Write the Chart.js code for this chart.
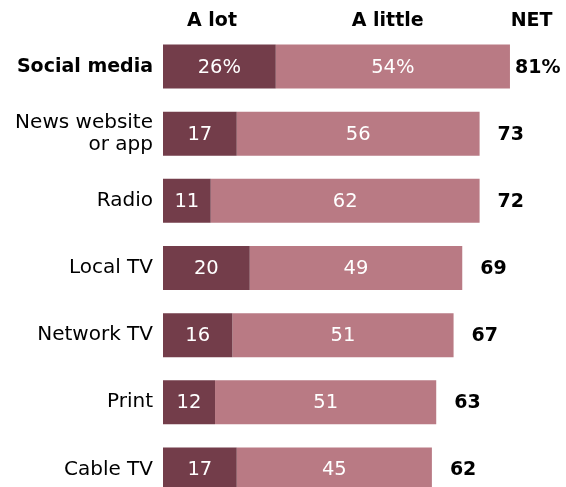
<!DOCTYPE html>
<html>
<head>
<meta charset="utf-8">
<script src="https://cdn.jsdelivr.net/npm/chart.js@4.4.1/dist/chart.umd.min.js"></script>
<style>
  html, body { margin: 0; padding: 0; background: #fff; overflow: hidden; }
  #wrap { width: 566px; height: 487px; overflow: hidden; }
  canvas { display: block; }
</style>
</head>
<body>
<div id="wrap"><canvas id="chart" width="566" height="503"></canvas></div>
<script>
// Data
const categories = ['Social media', ['News website', 'or app'], 'Radio', 'Local TV', 'Network TV', 'Print', 'Cable TV'];
const aLot = [26, 17, 11, 20, 16, 12, 17];
const aLittle = [54, 56, 62, 49, 51, 51, 45];
const net = [81, 73, 72, 69, 67, 63, 62];
const headers = ['A lot', 'A little', 'NET'];

const FONT = '"DejaVu Sans", sans-serif';
const DARK = '#733d4a';
const LIGHT = '#b97a84';

// labels inside bars, NET column and header row
const labelPlugin = {
  id: 'labels',
  afterDatasetsDraw(chart) {
    const ctx = chart.ctx;
    const x = chart.scales.x;
    ctx.save();
    ctx.textBaseline = 'middle';

    // values inside segments
    ctx.fillStyle = '#fff';
    ctx.font = '19.5px ' + FONT;
    ctx.textAlign = 'center';
    chart.data.datasets.forEach((ds, di) => {
      chart.getDatasetMeta(di).data.forEach((bar, i) => {
        const txt = ds.data[i] + (i === 0 ? '%' : '');
        ctx.fillText(txt, (bar.x + bar.base) / 2, bar.y + 1);
      });
    });

    // NET
    ctx.fillStyle = '#000';
    ctx.font = 'bold 19px ' + FONT;
    ctx.textAlign = 'left';
    const last = chart.getDatasetMeta(chart.data.datasets.length - 1).data;
    last.forEach((bar, i) => {
      const txt = net[i] + (i === 0 ? '%' : '');
      ctx.fillText(txt, bar.x + (i === 0 ? 5 : 18), bar.y + 1);
    });

    // header row
    ctx.textAlign = 'center';
    ctx.fillText(headers[0], x.getPixelForValue(11.3), 21);
    ctx.fillText(headers[1], x.getPixelForValue(51.8), 21);
    ctx.fillText(headers[2], x.getPixelForValue(85), 21);
    ctx.restore();
  }
};

new Chart(document.getElementById('chart'), {
  type: 'bar',
  data: {
    labels: categories,
    datasets: [
      { label: 'A lot', data: aLot, backgroundColor: DARK, barPercentage: 0.655, categoryPercentage: 1 },
      { label: 'A little', data: aLittle, backgroundColor: LIGHT, barPercentage: 0.655, categoryPercentage: 1 }
    ]
  },
  options: {
    indexAxis: 'y',
    responsive: false,
    animation: false,
    layout: { padding: { top: 33, right: 4, left: 0, bottom: 0 } },
    plugins: {
      legend: { display: false },
      tooltip: { enabled: false }
    },
    scales: {
      x: { stacked: true, display: false, min: 0, max: 92 },
      y: {
        stacked: true,
        grid: { display: false, drawTicks: false },
        border: { display: false },
        afterFit: s => {
          s.width = 163;
          // last row is cut by the page edge in the original
          s.paddingTop = 0;
          s.paddingBottom = 0;
        },
        ticks: {
          padding: 10,
          color: '#000',
          font: c => ({ family: FONT, size: c.index === 0 ? 19 : 20, weight: c.index === 0 ? 'bold' : 'normal', lineHeight: 1.12 })
        }
      }
    }
  },
  plugins: [labelPlugin]
});
</script>
</body>
</html>
